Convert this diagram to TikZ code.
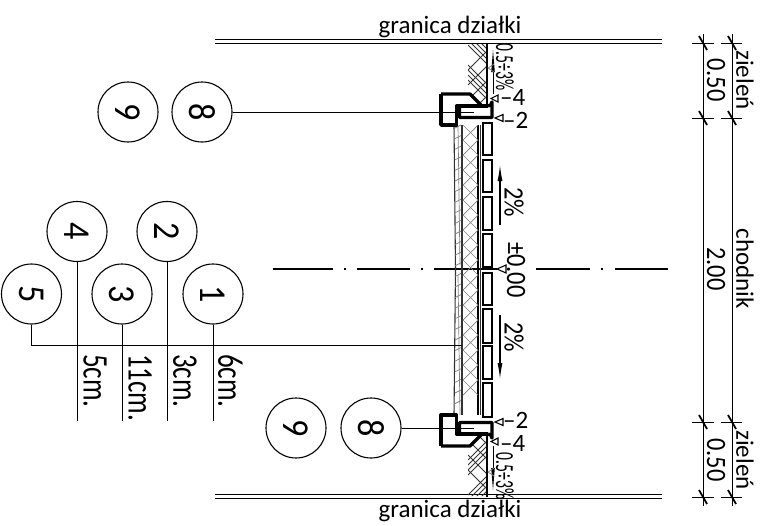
\documentclass[tikz,border=0pt]{standalone}
\usepackage{fontspec}
\setmainfont{Carlito}
\usetikzlibrary{calc,arrows.meta}
\tikzset{
	mark circle/.style={draw, circle, line width=1.1pt, minimum size=60pt, inner sep=0pt},
	mark digit/.style={inner sep=0pt, font=\fontsize{38}{38}\selectfont, rotate=-90, xscale=0.9},
	dim text/.style={inner sep=0pt, font=\fontsize{28}{28}\selectfont, rotate=-90, xscale=0.87},
	small text/.style={inner sep=0pt, font=\fontsize{26}{26}\selectfont, rotate=-90, xscale=0.6},
	wide text/.style={inner sep=0pt, font=\fontsize{36}{36}\selectfont, rotate=-90, xscale=0.75},
	flat text/.style={inner sep=0pt, font=\fontsize{25}{25}\selectfont},
	lead line/.style={line width=1pt},
	thick part/.style={line width=3.4pt, line join=round},
	paver/.style={line width=2.2pt},
	layer line/.style={line width=1.1pt, color=black!80},
	fine line/.style={line width=0.7pt, color=black!50},
	tip mark/.style={line width=1.1pt}
}
\begin{document}
\begin{tikzpicture}[x=1pt, y=-1pt]
		\useasboundingbox (0, 0) rectangle (765, 525);
		
		%%%%% plot borders %%%%%
		\draw[line width=0.9pt] (215, 39) -- (662, 39) (215, 43) -- (662, 43);
		\draw[line width=0.9pt] (215, 494) -- (662, 494) (215, 498) -- (662, 498);
		\node[flat text] (borderTop) at (450, 27) {granica działki};
		\node[flat text] (borderBottom) at (450, 511) {granica działki};
		
		%%%%% axis %%%%%
		\draw[line width=1.3pt] (273, 269) -- (333, 269) (344, 269) -- (346, 269) (357, 269) -- (410, 269);
		\draw[line width=1.3pt] (421, 269) -- (423, 269) (434, 269) -- (497, 269);
		\draw[line width=1.3pt] (536, 269) -- (590, 269) (601, 269) -- (603, 269) (615, 269) -- (668, 269);
		
		%%%%% layers %%%%%
		\draw[layer line] (454, 125) -- (455.5, 269) -- (454, 415);
		\draw[layer line] (462, 125) -- (462, 415);
		\draw[line width=1.1pt] (478, 125) -- (478, 415);
		\draw[layer line] (480.5, 125) -- (480.5, 415);
		\draw[fine line] (478, 125) \foreach \i in {0, 1, ..., 8} { -- (463, {140 + 30*\i}) -- (478, {155 + 30*\i}) };
		\draw[fine line] (463, 125) \foreach \i in {0, 1, ..., 8} { -- (478, {140 + 30*\i}) -- (463, {155 + 30*\i}) };
		\foreach \i in {0, 1, ..., 26} {
			\draw[fine line] (455, {128 + 10.6*\i}) -- (461, {125 + 10.6*\i});
		}
		\draw[fine line] (458, 125) -- (460, 265) (458, 275) -- (460, 415);
		
		%%%%% pavers %%%%%
		\foreach \a/\b in {123/155, 160/192, 197/230, 234/267, 273/305, 309/343, 346/379, 383/417} {
			\draw[paver] (483, \a) rectangle (492, \b);
		}
		
		%%%%% curbs, both ends %%%%%
		\foreach \s/\m in {1/0, -1/540} {
			\begin{scope}[shift={(0, \m)}, yscale=\s]
				\begin{scope}
					\clip (468, 44) -- (487, 44) -- (487, 104) -- (480, 104) -- (468, 92) -- cycle;
					\foreach \i in {0, 5, 10, 15, 20, 40, 45, 50, 55, 75, 80} {
						\draw[line width=0.8pt, color=black!80] (468, {25 + \i}) -- (488, {45 + \i});
					}
					\foreach \i in {0, 15, 30, 45} {
						\draw[line width=0.8pt, color=black!80] (488, {50 + \i}) -- (468, {70 + \i});
					}
				\end{scope}
				\draw[line width=1.1pt] (487, 43) -- (487, 105);
				\draw[thick part] (441, 94) -- (470, 94) -- (480.5, 104.5) -- (480.5, 106);
				\draw[thick part] (441, 94) -- (441, 125) -- (456.5, 125) -- (456.5, 106) -- (488, 106);
				\draw[thick part] (488, 106) arc (90:0:4) -- (492, 117.5) -- (459.5, 117.5) -- (459.5, 106);
				\draw[tip mark] (495, 118) -- (503, 114.5) -- (503, 121.5) -- cycle;
				\draw[tip mark] (491, 98.5) -- (498, 95) -- (498, 102) -- cycle;
				\draw[line width=0.9pt] (493, 94) -- (493, 66);
				\fill (493, 50) -- (491.2, 72) -- (494.8, 72) -- cycle;
				\draw[fine line] (494, 64) -- (488, 68) -- (494, 72);
			\end{scope}
		}
		\draw[tip mark] (497, 269) -- (506, 265) -- (506, 273) -- cycle;
		\node[flat text, anchor=west] (lvlTwoTop) at (503, 120) {–2};
		\node[flat text, anchor=west] (lvlFourTop) at (500, 97.5) {–4};
		\node[flat text, anchor=west] (lvlTwoBottom) at (503, 420.5) {–2};
		\node[flat text, anchor=west] (lvlFourBottom) at (500, 443) {–4};
		\node[small text] (slopeTop) at (505, 67) {0.5÷3\%};
		\node[small text] (slopeBottom) at (505, 476) {0.5÷3\%};
		\node[dim text] (levelZero) at (516, 270) {±0.00};
		
		%%%%% walk slopes %%%%%
		\draw[line width=1.1pt, -{Latex[length=16pt, width=5pt]}] (500, 225) -- (500, 165);
		\draw[line width=1.1pt, -{Latex[length=16pt, width=5pt]}] (500, 315) -- (500, 379);
		\node[dim text] (slopeUp) at (514, 202) {2\%};
		\node[dim text] (slopeDown) at (514, 337) {2\%};
		
		%%%%% marks %%%%%
		\node[mark circle] (nineTop) at (128, 112) {};
		\node[mark digit] at (nineTop) {9};
		\node[mark circle] (eightTop) at (202, 112) {};
		\node[mark digit] at (eightTop) {8};
		\coordinate (curbTop) at (474, 112);
		\draw[lead line] (eightTop) -- (curbTop);
		\node[mark circle] (nineBottom) at (296, 428) {};
		\node[mark digit] at (nineBottom) {9};
		\node[mark circle] (eightBottom) at (371, 428) {};
		\node[mark digit] at (eightBottom) {8};
		\coordinate (curbBottom) at (474, 428);
		\draw[lead line] (eightBottom) -- (curbBottom);
		
		\node[mark circle] (five) at (31.5, 294) {};
		\node[mark digit] at (five) {5};
		\coordinate (layerEnd) at (462, 345);
		\draw[lead line] (five.south) |- (layerEnd);
		\foreach \n/\d/\t/\x/\y in {four/4/5cm./77/231.5, three/3/11cm./122/294, two/2/3cm./167/231.5, one/1/6cm./213/294} {
			\node[mark circle] (\n) at (\x, \y) {};
			\node[mark digit] at (\n) {\d};
			\coordinate (\n End) at (\x, 421);
			\draw[lead line] (\n) -- (\n End);
			\node[wide text, anchor=north west] (\n Text) at ({\x + 30}, 354) {\t};
		}
		
		%%%%% dimensions %%%%%
		\coordinate (dimA) at (703, 34);
		\coordinate (dimB) at (703, 506);
		\coordinate (nameA) at (732, 34);
		\coordinate (nameB) at (732, 506);
		\draw[lead line] (dimA) -- (dimB);
		\draw[lead line] (nameA) -- (nameB);
		\foreach \y in {43, 118, 422, 497} {
			\draw[lead line] (692, \y) -- (714, \y) (721, \y) -- (742, \y);
			\draw[line width=1.8pt] (699, {\y - 7}) -- (707, {\y + 7});
			\draw[line width=1.8pt] (728, {\y - 7}) -- (736, {\y + 7});
		}
		\node[dim text] (dimUpper) at (716, 80) {0.50};
		\node[dim text] (dimMiddle) at (716, 269) {2.00};
		\node[dim text] (dimLower) at (716, 460) {0.50};
		\node[flat text, rotate=-90] (nameUpper) at (745, 80) {zieleń};
		\node[flat text, rotate=-90] (nameMiddle) at (745, 269) {chodnik};
		\node[flat text, rotate=-90] (nameLower) at (745, 460) {zieleń};
		
		%%%%% END %%%%%
	\end{tikzpicture}
\end{document}
